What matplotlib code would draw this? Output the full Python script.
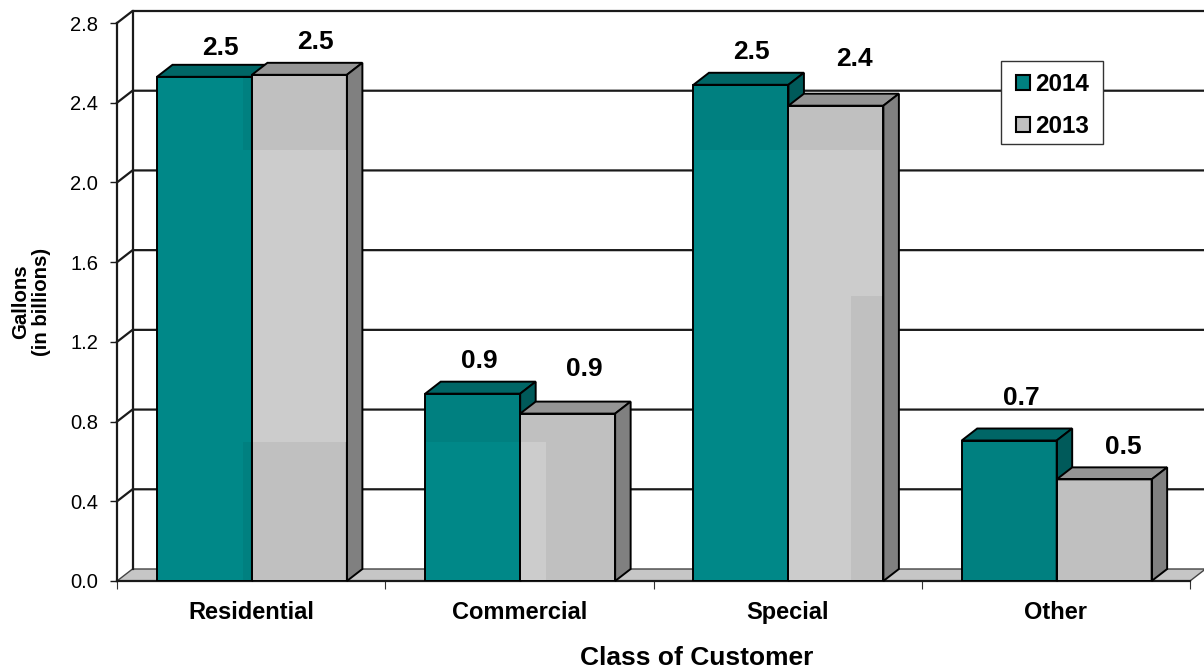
import matplotlib
matplotlib.use("Agg")
import matplotlib.pyplot as plt
from matplotlib.patches import Patch, Polygon, Rectangle

plt.rcParams['font.family'] = ['Liberation Sans', 'DejaVu Sans']

categories = ['Residential', 'Commercial', 'Special', 'Other']
values_2014 = [2.53, 0.94, 2.49, 0.705]
values_2013 = [2.54, 0.84, 2.385, 0.51]
labels_2014 = ['2.5', '0.9', '2.5', '0.7']
labels_2013 = ['2.5', '0.9', '2.4', '0.5']
yticks = [0.0, 0.4, 0.8, 1.2, 1.6, 2.0, 2.4, 2.8]

# px offsets of the value labels above the bar tops
offs_2014 = [(16, 29), (7, 33), (10, 33), (12, 43)]
offs_2013 = [(16, 33), (17, 45), (19, 47), (19, 32)]

W, H = 1204, 671
L, R, T, B = 117, 1190, 23, 581
DX = 15.5 / ((R - L) / 4)   # 3d depth in data units
DY = 12 / ((B - T) / 2.8)
BAR = 0.354

TEAL, TEAL_LIGHT, TEAL_TOP, TEAL_SIDE = '#008080', '#008888', '#006666', '#005a5a'
GRAY, GRAY_LIGHT, GRAY_TOP, GRAY_SIDE = '#c0c0c0', '#cccccc', '#959595', '#808080'
LINE = '#1a1a1a'

fig = plt.figure(figsize=(W / 100, H / 100), dpi=100)
ax = fig.add_axes([L / W, (H - B) / H, (R - L) / W, (B - T) / H])
ax.set_xlim(0, 4)
ax.set_ylim(0, 2.8)
ax.patch.set_visible(False)
for s in ['top', 'right']:
    ax.spines[s].set_visible(False)
for s in ['left', 'bottom']:
    ax.spines[s].set_linewidth(1.6)
    ax.spines[s].set_color(LINE)
    ax.spines[s].set_zorder(2)

# back wall and floor
ax.add_patch(Polygon([(0, 0), (DX, DY), (4 + DX, DY), (4, 0)], closed=True, fc='#c6c6c6',
                     ec='#444444', lw=1, clip_on=False, zorder=1))
ax.plot([DX, DX], [DY, 2.8 + DY], color=LINE, lw=1.6, clip_on=False, zorder=1)
for t in yticks[1:]:
    ax.plot([0, DX, 4 + DX], [t, t + DY, t + DY], color=LINE, lw=1.6, clip_on=False, zorder=1)


def draw_bar(x, v, face, top, side):
    ax.bar(x, v, BAR, align='edge', color=face, zorder=3)
    ax.add_patch(Polygon([(x, v), (x + DX, v + DY), (x + BAR + DX, v + DY), (x + BAR, v)],
                         closed=True, fc=top, ec='black', lw=1.4, clip_on=False, zorder=3))
    ax.add_patch(Polygon([(x + BAR, 0), (x + BAR + DX, DY), (x + BAR + DX, v + DY), (x + BAR, v)],
                         closed=True, fc=side, ec='black', lw=1.4, clip_on=False, zorder=3))


pos_2014 = [i + 0.149 for i in range(4)]
pos_2013 = [i + 0.503 for i in range(4)]
for x0, x1, v0, v1 in zip(pos_2014, pos_2013, values_2014, values_2013):
    draw_bar(x0, v0, TEAL, TEAL_TOP, TEAL_SIDE)
    draw_bar(x1, v1, GRAY, GRAY_TOP, GRAY_SIDE)

# lighter patches across the bars (picture artefacts in the original)
BAND_HI, BAND_MID, BAND_LO = 2.164, 1.43, 0.70
shades = [
    (pos_2014[0], 0.32, 0, values_2014[0], TEAL_LIGHT),
    (pos_2014[0] + 0.32, BAR - 0.32, BAND_LO, BAND_HI - BAND_LO, TEAL_LIGHT),
    (pos_2013[0], BAR, BAND_LO, BAND_HI - BAND_LO, GRAY_LIGHT),
    (pos_2014[1], BAR, 0, BAND_LO, TEAL_LIGHT),
    (pos_2013[1], 0.095, 0, BAND_LO, GRAY_LIGHT),
    (pos_2014[2], BAR, 0, BAND_HI, TEAL_LIGHT),
    (pos_2013[2], BAR, BAND_MID, BAND_HI - BAND_MID, GRAY_LIGHT),
    (pos_2013[2], 0.235, 0, BAND_MID, GRAY_LIGHT),
]
for x, w, y, h, c in shades:
    ax.add_patch(Rectangle((x, y), w, h, fc=c, ec='none', zorder=3.1))

# bar outlines on top of the patches
ax.bar(pos_2014, values_2014, BAR, align='edge', fill=False, edgecolor='black', lw=1.4, zorder=3.2)
ax.bar(pos_2013, values_2013, BAR, align='edge', fill=False, edgecolor='black', lw=1.4, zorder=3.2)

for xs, vals, labs, offs in [(pos_2014, values_2014, labels_2014, offs_2014),
                             (pos_2013, values_2013, labels_2013, offs_2013)]:
    for x, v, lab, off in zip(xs, vals, labs, offs):
        ax.annotate(lab, (x + BAR / 2, v), xytext=(off[0] * 0.72, off[1] * 0.72),
                    textcoords='offset points', ha='center', va='center',
                    fontsize=19, fontweight='bold', color='black', zorder=5)

# axes
ax.set_yticks(yticks)
ax.set_yticklabels([f'{t:.1f}' for t in yticks], fontsize=14.5)
ax.tick_params(axis='y', length=5, width=1, pad=8.5, color=LINE)
ax.set_xticks(range(5))
ax.set_xticklabels([])
ax.tick_params(axis='x', which='major', length=6, width=0.8, color='#333333')
ax.set_xticks([i + 0.5 for i in range(4)], minor=True)
ax.set_xticklabels(categories, minor=True, fontsize=17, fontweight='bold')
ax.tick_params(axis='x', which='minor', length=0, pad=14.5)

ax.set_xlabel('Class of Customer', fontsize=19, fontweight='bold')
ax.xaxis.set_label_coords((697 - L) / (R - L), -(658 - B) / (B - T), ax.transAxes)
ax.xaxis.label.set_va('center')
ax.set_ylabel('Gallons\n(in billions)', fontsize=14.7, fontweight='bold', linespacing=1.1)
ax.yaxis.set_label_coords(-(L - 31) / (R - L), (B - 302) / (B - T), ax.transAxes)
ax.yaxis.label.set_va('center')

# legend box drawn apart so its padding can differ per side
ax.add_patch(Rectangle((1001 / W, 1 - 144 / H), 102 / W, 83 / H, transform=fig.transFigure,
                       fc='white', ec='#333333', lw=1, clip_on=False, zorder=5.9))
handles = [Patch(fc=TEAL, ec='black', lw=1.5), Patch(fc=GRAY, ec='black', lw=1.5)]
leg = ax.legend(handles, ['2014', '2013'], loc='upper left',
                bbox_to_anchor=(1016 / W, 1 - 73 / H), bbox_transform=fig.transFigure,
                prop={'size': 17.5, 'weight': 'bold'}, frameon=False,
                handlelength=0.56, handleheight=0.56,
                handletextpad=0.22, labelspacing=0.8, borderpad=0, borderaxespad=0)
leg.set_zorder(6)

fig.savefig('out.png', dpi=100)
